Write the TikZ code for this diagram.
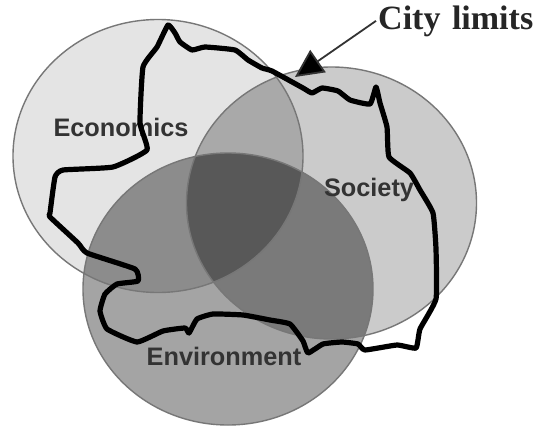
\documentclass[tikz,border=0pt]{standalone}
\usepackage{fontspec}
\setmainfont{Liberation Serif}
\setsansfont{Liberation Sans}
\usetikzlibrary{arrows.meta}
\definecolor{econ}{HTML}{E4E4E4}
\definecolor{soc}{HTML}{CBCBCB}
\definecolor{env}{HTML}{A4A4A4}
\definecolor{econsoc}{HTML}{A9A9A9}
\definecolor{econenv}{HTML}{8C8C8C}
\definecolor{socenv}{HTML}{7A7A7A}
\definecolor{allthree}{HTML}{585858}
\definecolor{edge}{HTML}{777777}
\definecolor{labeltext}{HTML}{333333}
\tikzset{
  setlabel/.style={font=\sffamily\bfseries\fontsize{25.3}{27}\selectfont,text=labeltext,inner sep=0pt,anchor=base},
  cityline/.style={line width=5.2pt,black,line join=round,line cap=round},
  rim/.style={draw=edge,line width=1.4pt},
}
\begin{document}
\begin{tikzpicture}[x=1pt,y=-1pt]
\useasboundingbox (0,0) rectangle (539,432);
\fill[white] (0,0) rectangle (539,432);
\def\econc{(158,156) ellipse [x radius=145pt,y radius=136.5pt]}
\def\socc{(331.5,203) ellipse [x radius=145pt,y radius=136pt]}
\def\envc{(228,289) ellipse [x radius=145pt,y radius=136pt]}
% set regions
\fill[econ] \econc;
\fill[soc] \socc;
\fill[env] \envc;
\begin{scope}\clip \econc; \fill[econsoc] \socc; \fill[econenv] \envc; \end{scope}
\begin{scope}\clip \socc; \fill[socenv] \envc; \end{scope}
\begin{scope}\clip \econc; \clip \socc; \fill[allthree] \envc; \end{scope}
\draw[rim] \econc;
\draw[rim] \socc;
\draw[rim] \envc;
% labels
\node[setlabel] (economics) at (121,136) {Economics};
\node[setlabel] (society) at (369,196) {Society};
\node[setlabel] (environment) at (224,365) {Environment};
% city boundary
\draw[cityline] plot[smooth cycle,tension=0.25] coordinates {
(168,25)(175,33)(180,42)(192,50)(205,47)(235,50)(248,60)(262,68)(272,71)
(303,88)(312,93)(322,88)(338,91)(350,100)(370,104)(376,87)(380,103)(387,127)
(389,157)(410,173)(420,190)(433,213)(436,249)(436,299)(420,329)(416,348)
(397,345)(365,350)(358,344)(342,342)(323,344)(308,353)(303,341)(290,324)
(270,320)(243,315)(213,314)(197,319)(189,333)(185,328)(163,331)(137,342)
(107,329)(100,311)(105,294)(117,284)(138,281)(135,269)(87,253)(78,243)
(50,217)(50,213)(55,177)(63,170)(113,167)(147,150)(140,123)(143,67)(157,47)};
% city limits callout
\node[font=\bfseries\fontsize{34}{36}\selectfont,inner sep=0pt,anchor=base west,text=black!85] (city) at (378,29) {City\hspace{3pt} limits};
\coordinate (citytip) at (295,77);
\draw[line width=1.8pt,black!80,-{Triangle[length=28pt,width=27pt,fill=black]}] (city.west) ++(-2pt,0) -- (citytip);
\end{tikzpicture}
\end{document}
